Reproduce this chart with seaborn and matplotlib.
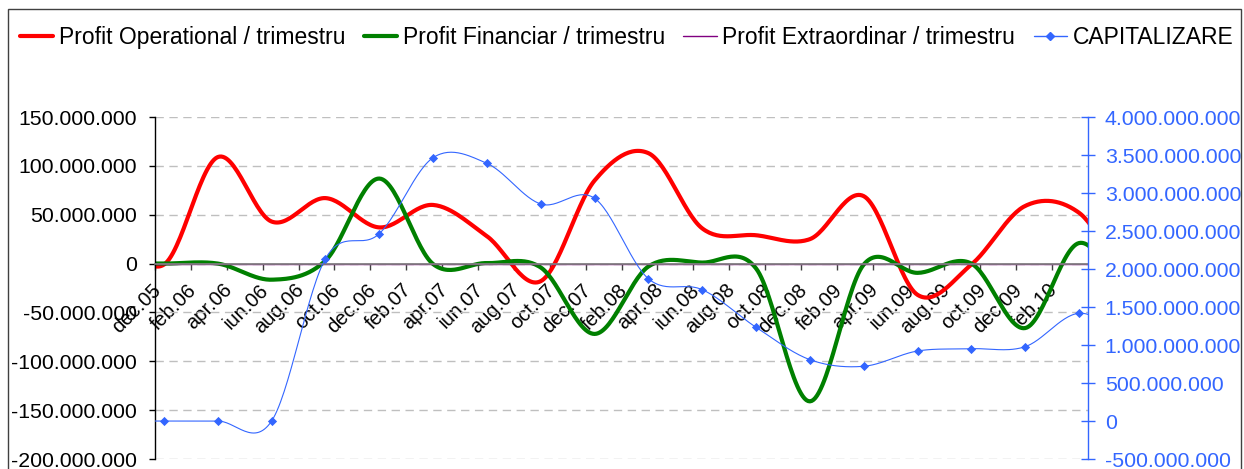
import numpy as np
import pandas as pd
import seaborn as sns
import matplotlib.pyplot as plt
import matplotlib.transforms as mtransforms
from matplotlib.lines import Line2D
from matplotlib.patches import Rectangle
from matplotlib.ticker import FuncFormatter, MultipleLocator

# quarterly data (values in millions), first and last quarter fall outside the visible axis
quarters = ["2005-09", "2005-12", "2006-03", "2006-06", "2006-09", "2006-12",
            "2007-03", "2007-06", "2007-09", "2007-12", "2008-03", "2008-06",
            "2008-09", "2008-12", "2009-03", "2009-06", "2009-09", "2009-12",
            "2010-03", "2010-06"]
profit_operational = [37, -1, 109, 43, 67, 37, 60, 28, -18, 85, 113, 36,
                      29, 25, 69, -32, -1, 59, 52, -21]
profit_financiar = [0, 0, 0, -16.5, 3, 87, -0.5, 0.5, -4, -72, -3, 1,
                    -5, -141, -1, -9.5, 0, -66, 21, -40]
profit_extraordinar = [0, 0, 0, 0, 0, 0, 0, 0, 0, 0, 0, 0,
                       0, 0, 0, 0, 0, 0, 0, 0]
capitalizare = [0, 0, 0, 0, 2136, 2465, 3465, 3390, 2855, 2930, 1872, 1728,
                1233, 807, 720, 921, 951, 978, 1417, 1090]

month_labels = ["dec.05", "feb.06", "apr.06", "iun.06", "aug.06", "oct.06", "dec.06",
                "feb.07", "apr.07", "iun.07", "aug.07", "oct.07", "dec.07",
                "feb.08", "apr.08", "iun.08", "aug.08", "oct.08", "dec.08",
                "feb.09", "apr.09", "iun.09", "aug.09", "oct.09", "dec.09", "feb.10"]

RED = "#FF0000"
GREEN = "#008000"
PURPLE = "#800080"
BLUE = "#3366FF"


def month_pos(q):
    # position of the middle of the month, counted from dec.05
    return (pd.Period(q, "M") - pd.Period("2005-12", "M")).n + 0.5


def smooth(x, y, n=30):
    # catmull-rom curve through the points, close to excel's "smoothed line"
    x = np.asarray(x, float)
    y = np.asarray(y, float)
    xs, ys = [], []
    t = np.linspace(0, 1, n, endpoint=False)
    h00 = 2 * t**3 - 3 * t**2 + 1
    h10 = t**3 - 2 * t**2 + t
    h01 = -2 * t**3 + 3 * t**2
    h11 = t**3 - t**2
    for i in range(len(x) - 1):
        y0 = y[i - 1] if i > 0 else y[i]
        y3 = y[i + 2] if i + 2 < len(y) else y[i + 1]
        m1 = (y[i + 1] - y0) / 2
        m2 = (y3 - y[i]) / 2
        xs.append(x[i] + t * (x[i + 1] - x[i]))
        ys.append(h00 * y[i] + h10 * m1 + h01 * y[i + 1] + h11 * m2)
    xs.append([x[-1]])
    ys.append([y[-1]])
    return np.concatenate(xs), np.concatenate(ys)


def fmt(v, pos):
    return f"{v:,.0f}".replace(",", ".")


xq = [month_pos(q) for q in quarters]

sns.set_theme(style="white")
plt.rcParams["font.family"] = ["Liberation Sans", "DejaVu Sans"]
plt.rcParams["text.color"] = "black"
plt.rcParams["xtick.color"] = "black"
plt.rcParams["ytick.color"] = "black"

fig = plt.figure(figsize=(12.44, 4.69), dpi=100)
ax = fig.add_axes([155 / 1244, 1 - 459 / 469, (1088 - 155) / 1244, (459 - 117) / 469])
ax2 = ax.twinx()

for vals, color, lw in [(profit_operational, RED, 3.0),
                        (profit_financiar, GREEN, 3.0),
                        (profit_extraordinar, PURPLE, 1.0)]:
    sx, sy = smooth(xq, np.array(vals) * 1e6)
    sns.lineplot(x=sx, y=sy, ax=ax, color=color, lw=lw, sort=False, estimator=None)

sx, sy = smooth(xq, np.array(capitalizare) * 1e6)
sns.lineplot(x=sx, y=sy, ax=ax2, color=BLUE, lw=0.8, sort=False, estimator=None)
sns.scatterplot(x=xq, y=np.array(capitalizare) * 1e6, ax=ax2, color=BLUE,
                marker="D", s=22, edgecolor=BLUE, linewidth=0, zorder=5)

ax.spines["bottom"].set_position(("data", 0))
ax.spines["bottom"].set_color("#808080")
ax.spines["top"].set_visible(False)
ax.spines["right"].set_visible(False)
ax.spines["left"].set_color("black")
ax.spines["left"].set_linewidth(1)
for s in ["top", "bottom", "left"]:
    ax2.spines[s].set_visible(False)
ax2.spines["right"].set_color(BLUE)
ax2.spines["right"].set_linewidth(1)

ax.set_xlim(0, 52)
ax.set_ylim(-200e6, 150e6)
ax2.set_ylim(-500e6, 4000e6)
ax.yaxis.set_major_locator(MultipleLocator(50e6))
ax2.yaxis.set_major_locator(MultipleLocator(500e6))
ax.yaxis.set_major_formatter(FuncFormatter(fmt))
ax2.yaxis.set_major_formatter(FuncFormatter(fmt))

ax.grid(axis="y", color="#BFBFBF", linestyle=(0, (6, 4)), lw=1)
ax.grid(axis="x", visible=False)
ax2.grid(False)

ax.tick_params(axis="y", direction="out", length=4, width=1, color="black",
               labelsize=15.3, pad=9, left=True)
ax.tick_params(axis="x", direction="out", length=4, width=1, color="#404040",
               labelsize=14.5, pad=8, bottom=True)
ax2.tick_params(axis="y", direction="inout", length=10, width=1, color=BLUE,
                labelsize=15.3, labelcolor=BLUE, pad=7, right=True)

ax.set_xticks(np.arange(0, 52, 2))
ax.set_xticklabels(month_labels, rotation=45, ha="right", va="top", rotation_mode="anchor")
offset = mtransforms.ScaledTranslation(-4 / 100, 0, fig.dpi_scale_trans)
for lab in ax.get_xticklabels():
    lab.set_transform(lab.get_transform() + offset)

ax.set_xlabel("")
ax.set_ylabel("")
ax2.set_ylabel("")

handles = [
    Line2D([], [], color=RED, lw=3),
    Line2D([], [], color=GREEN, lw=3),
    Line2D([], [], color=PURPLE, lw=1),
    Line2D([], [], color=BLUE, lw=1, marker="D", markersize=4),
]
labels = ["Profit Operational / trimestru", "Profit Financiar / trimestru",
          "Profit Extraordinar / trimestru", "CAPITALIZARE"]
fig.legend(handles, labels, loc="upper left", bbox_to_anchor=(20 / 1244, 1 - 26 / 469),
           ncol=4, frameon=False, fontsize=16.5, handlelength=1.45, handletextpad=0.25,
           columnspacing=0.8, borderaxespad=0, borderpad=0)

fig.patches.append(Rectangle((8 / 1244, -0.1), (1241 - 8) / 1244, 1.1 - 9 / 469,
                             transform=fig.transFigure, fill=False, lw=1, ec="#404040"))

fig.savefig("out.png", dpi=100, facecolor="white")
